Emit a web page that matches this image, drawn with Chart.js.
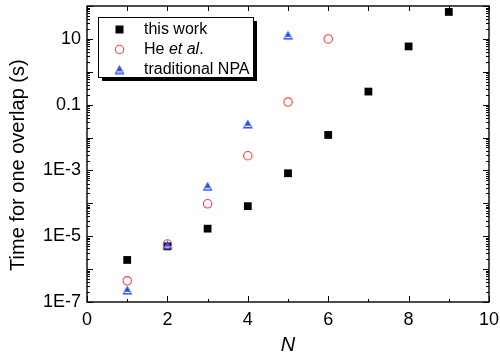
<!DOCTYPE html>
<html>
<head>
<meta charset="utf-8">
<script src="https://cdn.jsdelivr.net/npm/chart.js@4/dist/chart.umd.min.js"></script>
<style>
  html, body { margin: 0; padding: 0; background: #fff; }
  #wrap { width: 500px; height: 359px; position: relative; }
</style>
</head>
<body>
<div id="wrap"><canvas id="chart"></canvas></div>
<script>
// ---- data ----
const N_THIS = [1, 2, 3, 4, 5, 6, 7, 8, 9];
const THIS_WORK = [1.9e-6, 4.9e-6, 1.7e-5, 8.2e-5, 8.2e-4, 1.2e-2, 0.25, 5.9, 66];

const N_HE = [1, 2, 3, 4, 5, 6];
const HE_ET_AL = [4.4e-7, 5.8e-6, 9.7e-5, 2.8e-3, 0.12, 10];

const N_NPA = [1, 2, 3, 4, 5];
const TRAD_NPA = [2.3e-7, 5.5e-6, 3.3e-4, 0.026, 13];

const Y_TICK_VALUES = [1e-7, 1e-5, 1e-3, 0.1, 10];
const Y_TICK_LABELS = ["1E-7", "1E-5", "1E-3", "0.1", "10"];
const X_TICK_VALUES = [0, 2, 4, 6, 8, 10];

const BLUE = "#2a4ff2";
const RED = "#ff3838";
const FONT = "'Liberation Sans', Arial, sans-serif";

// triangle marker: blue with a thin white stripe near the base
function makeTriangle() {
    const c = document.createElement("canvas");
    c.width = 11; c.height = 10;
    const g = c.getContext("2d");
    g.fillStyle = BLUE;
    g.beginPath();
    g.moveTo(5.5, 0.5); g.lineTo(10.5, 9.5); g.lineTo(0.5, 9.5); g.closePath();
    g.fill();
    g.strokeStyle = "#fff";
    g.lineWidth = 1.2;
    g.beginPath();
    g.moveTo(2.6, 7.4); g.lineTo(8.4, 7.4);
    g.stroke();
    return c;
}
const TRI = makeTriangle();

function pts(xs, ys) {
    return xs.map((x, i) => ({ x: x, y: ys[i] }));
}

/* ============================
   frame, inward ticks, legend
============================ */
const framePlugin = {
    id: "frame",
    afterDraw(chart) {
        const ctx = chart.ctx;
        const a = chart.chartArea;
        const xs = chart.scales.x, ys = chart.scales.y;
        ctx.save();
        ctx.strokeStyle = "#000";
        ctx.lineWidth = 1.4;
        ctx.strokeRect(a.left, a.top, a.right - a.left, a.bottom - a.top);

        ctx.lineWidth = 1;
        ctx.beginPath();
        // y ticks (log decades + minors), both sides pointing in
        for (let e = -7; e <= 2; e++) {
            for (let m = 1; m <= 9; m++) {
                const v = m * Math.pow(10, e);
                if (v > 100 || v < 1e-7) continue;
                const py = Math.round(ys.getPixelForValue(v)) + 0.5;
                const len = m === 1 ? 6 : 3;
                ctx.moveTo(a.left, py); ctx.lineTo(a.left + len, py);
                ctx.moveTo(a.right, py); ctx.lineTo(a.right - len, py);
            }
        }
        // x ticks
        for (let n = 0; n <= 10; n++) {
            const px = Math.round(xs.getPixelForValue(n)) + 0.5;
            const len = n % 2 === 0 ? 6 : 3;
            ctx.moveTo(px, a.bottom); ctx.lineTo(px, a.bottom - len);
            ctx.moveTo(px, a.top); ctx.lineTo(px, a.top + 5);
        }
        ctx.stroke();

        // legend box with drop shadow
        const bx = 98, by = 17, bw = 155, bh = 60;
        ctx.fillStyle = "#000";
        ctx.fillRect(bx + 4, by + 4, bw, bh);
        ctx.fillStyle = "#fff";
        ctx.fillRect(bx, by, bw, bh);
        ctx.lineWidth = 1;
        ctx.strokeRect(bx + 0.5, by + 0.5, bw, bh);

        const mx = 119.5, tx = 144;
        const rows = [29.5, 49.5, 69.5];
        // square
        ctx.fillStyle = "#000";
        ctx.fillRect(mx - 4, rows[0] - 4, 8, 8);
        // circle
        ctx.strokeStyle = RED;
        ctx.lineWidth = 1.1;
        ctx.beginPath();
        ctx.arc(mx, rows[1], 4.2, 0, Math.PI * 2);
        ctx.stroke();
        // triangle
        ctx.drawImage(TRI, mx - 5.5, rows[2] - 5);

        ctx.fillStyle = "#000";
        ctx.textBaseline = "middle";
        ctx.textAlign = "left";
        ctx.font = "16px " + FONT;
        ctx.fillText("this work", tx, rows[0]);
        ctx.fillText("traditional NPA", tx, rows[2]);
        let x = tx;
        ctx.fillText("He ", x, rows[1]);
        x += ctx.measureText("He ").width;
        ctx.font = "italic 16px " + FONT;
        ctx.fillText("et al", x, rows[1]);
        x += ctx.measureText("et al").width;
        ctx.font = "16px " + FONT;
        ctx.fillText(".", x, rows[1]);
        ctx.restore();
    }
};

new Chart(document.getElementById("chart"), {
    type: "scatter",
    data: {
        datasets: [
            {
                label: "this work",
                data: pts(N_THIS, THIS_WORK),
                pointStyle: "rect",
                pointRadius: 5.5,
                pointBackgroundColor: "#000",
                pointBorderColor: "#000",
                pointBorderWidth: 0,
                order: 2
            },
            {
                label: "He et al.",
                data: pts(N_HE, HE_ET_AL),
                pointStyle: "circle",
                pointRadius: 4.2,
                pointBackgroundColor: "rgba(0,0,0,0)",
                pointBorderColor: RED,
                pointBorderWidth: 1.1,
                order: 0
            },
            {
                label: "traditional NPA",
                data: pts(N_NPA, TRAD_NPA),
                pointStyle: TRI,
                order: 1
            }
        ]
    },
    options: {
        responsive: true,
        maintainAspectRatio: false,
        animation: false,
        events: [],
        layout: { padding: { top: 6, right: 11, left: 0, bottom: 0 } },
        plugins: {
            legend: { display: false },
            tooltip: { enabled: false }
        },
        scales: {
            x: {
                type: "linear",
                min: 0,
                max: 10,
                afterBuildTicks: s => { s.ticks = X_TICK_VALUES.map(v => ({ value: v })); },
                afterFit: s => { s.height = 57; s.paddingLeft = 0; s.paddingRight = 0; },
                grid: { display: false, drawTicks: false },
                border: { display: false },
                ticks: {
                    color: "#000",
                    padding: 7,
                    maxRotation: 0,
                    font: { family: FONT, size: 18 }
                },
                title: {
                    display: true,
                    text: "N",
                    color: "#000",
                    padding: { top: 0, bottom: 2 },
                    font: { family: FONT, size: 20, style: "italic" }
                }
            },
            y: {
                type: "logarithmic",
                min: 1e-7,
                max: 100,
                afterBuildTicks: s => { s.ticks = Y_TICK_VALUES.map(v => ({ value: v })); },
                afterFit: s => { s.width = 87; s.paddingTop = 0; s.paddingBottom = 0; },
                grid: { display: false, drawTicks: false },
                border: { display: false },
                ticks: {
                    color: "#000",
                    padding: 6,
                    font: { family: FONT, size: 18 },
                    callback: (v, i) => Y_TICK_LABELS[i]
                },
                title: {
                    display: true,
                    // trailing spaces nudge the centred title down like the original
                    text: "Time for one overlap (s)    ",
                    color: "#000",
                    padding: { top: 6, bottom: 0 },
                    font: { family: FONT, size: 20 }
                }
            }
        }
    },
    plugins: [framePlugin]
});
</script>
</body>
</html>
